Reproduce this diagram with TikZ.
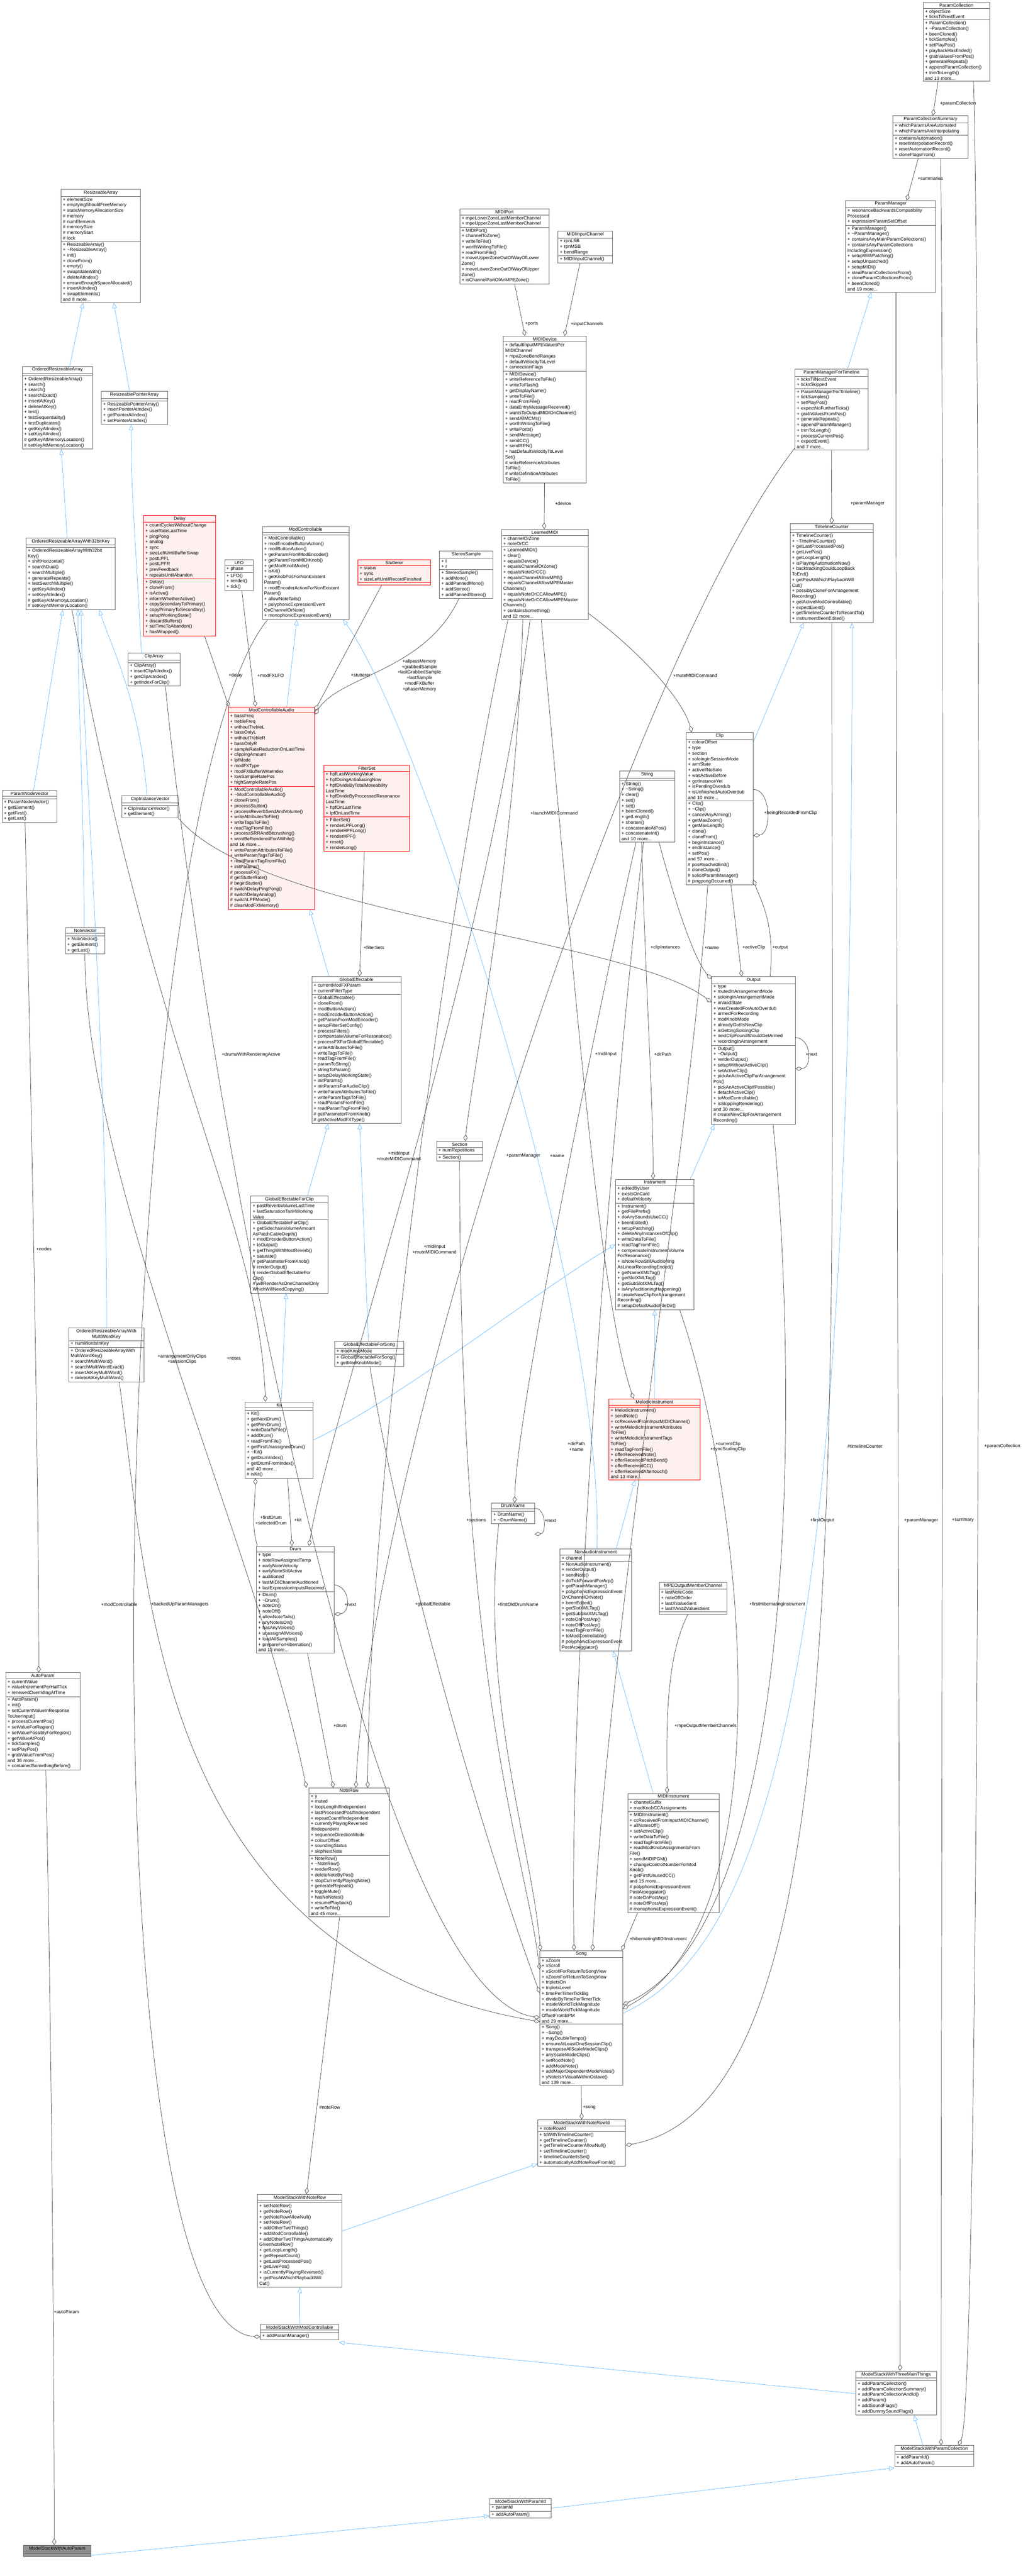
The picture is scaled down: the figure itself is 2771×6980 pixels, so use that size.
\documentclass[tikz,border=0pt]{standalone}
\usepackage{fontspec}
\setmainfont{Liberation Sans}
\usetikzlibrary{shapes.multipart,arrows.meta}
\definecolor{edgeblue}{HTML}{63B8FF}
\definecolor{edgegray}{HTML}{404040}
\definecolor{boxgray}{HTML}{666666}
\definecolor{redfill}{HTML}{FFF0F0}
\tikzset{
  cls/.style={rectangle split, rectangle split parts=3, draw=boxgray, fill=white, line width=1pt,
    align=left, inner xsep=5pt, inner ysep=3pt, anchor=north west,
    rectangle split empty part height=8pt,
    font=\fontsize{12.5}{15}\selectfont},
  redbox/.style={draw=red, fill=redfill},
  graybox/.style={draw=boxgray, fill=boxgray!70},
  plainbox/.style={},
  inh/.style={draw=edgeblue, line width=1pt, -{Triangle[open,length=15pt,width=12pt]}},
  agg/.style={draw=edgegray, line width=1pt, -{Diamond[open,length=18pt,width=11pt]}},
  lbl/.style={font=\fontsize{12.5}{15}\selectfont, align=center, inner sep=1pt}
}
\newcommand\umlbox[8]{\node[cls,#2,text width=#5pt] (#1) at (#3,#4) {{\centering #6\par}\nodepart{two}#7\nodepart{three}#8};}
\begin{document}
\begin{tikzpicture}[x=1pt,y=-1pt]
\useasboundingbox (0,0) rectangle (2771,6980);

\umlbox{ra}{plainbox}{165}{513}{205}{ResizeableArray}{+ elementSize\\+ emptyingShouldFreeMemory\\+ staticMemoryAllocationSize\\\# memory\\\# numElements\\\# memorySize\\\# memoryStart\\\# lock}{+ ResizeableArray()\\+ \textasciitilde ResizeableArray()\\+ init()\\+ cloneFrom()\\+ empty()\\+ swapStateWith()\\+ deleteAtIndex()\\+ ensureEnoughSpaceAllocated()\\+ insertAtIndex()\\+ swapElements()\\and 8 more...}
\umlbox{ora}{plainbox}{60}{992}{180}{OrderedResizeableArray}{}{+ OrderedResizeableArray()\\+ search()\\+ search()\\+ searchExact()\\+ insertAtKey()\\+ deleteAtKey()\\+ test()\\+ testSequentiality()\\+ testDuplicates()\\+ getKeyAtIndex()\\+ setKeyAtIndex()\\\# getKeyAtMemoryLocation()\\\# setKeyAtMemoryLocation()}
\umlbox{rpa}{plainbox}{274}{1060}{169}{ResizeablePointerArray}{}{+ ResizeablePointerArray()\\+ insertPointerAtIndex()\\+ getPointerAtIndex()\\+ setPointerAtIndex()}
\umlbox{ora32}{plainbox}{70}{1457}{232}{OrderedResizeableArrayWith32bitKey}{}{+ OrderedResizeableArrayWith32bit\\Key()\\+ shiftHorizontal()\\+ searchDual()\\+ searchMultiple()\\+ generateRepeats()\\+ testSearchMultiple()\\+ getKeyAtIndex()\\+ setKeyAtIndex()\\\# getKeyAtMemoryLocation()\\\# setKeyAtMemoryLocation()}
\umlbox{delay}{redbox}{388}{1396}{186}{Delay}{+ countCyclesWithoutChange\\+ userRateLastTime\\+ pingPong\\+ analog\\+ sync\\+ sizeLeftUntilBufferSwap\\+ postLPFL\\+ postLPFR\\+ prevFeedback\\+ repeatsUntilAbandon}{+ Delay()\\+ cloneFrom()\\+ isActive()\\+ informWhetherActive()\\+ copySecondaryToPrimary()\\+ copyPrimaryToSecondary()\\+ setupWorkingState()\\+ discardBuffers()\\+ setTimeToAbandon()\\+ hasWrapped()}
\umlbox{lfo}{plainbox}{608}{1516}{68}{LFO}{+ phase}{+ LFO()\\+ render()\\+ tick()}
\umlbox{modc}{plainbox}{710}{1426}{225}{ModControllable}{}{+ ModControllable()\\+ modEncoderButtonAction()\\+ modButtonAction()\\+ getParamFromModEncoder()\\+ getParamFromMIDIKnob()\\+ getModKnobMode()\\+ isKit()\\+ getKnobPosForNonExistent\\Param()\\+ modEncoderActionForNonExistent\\Param()\\+ allowNoteTails()\\+ polyphonicExpressionEvent\\OnChannelOrNote()\\+ monophonicExpressionEvent()}
\umlbox{stut}{redbox}{969}{1516}{187}{Stutterer}{+ status\\+ sync\\+ sizeLeftUntilRecordFinished}{}
\umlbox{stereo}{plainbox}{1190}{1493}{135}{StereoSample}{+ l\\+ r}{+ StereoSample()\\+ addMono()\\+ addPannedMono()\\+ addStereo()\\+ addPannedStereo()}
\umlbox{clipa}{plainbox}{346}{1769}{131}{ClipArray}{}{+ ClipArray()\\+ insertClipAtIndex()\\+ getClipAtIndex()\\+ getIndexForClip()}
\umlbox{mca}{redbox}{618}{1915}{224}{ModControllableAudio}{+ bassFreq\\+ trebleFreq\\+ withoutTrebleL\\+ bassOnlyL\\+ withoutTrebleR\\+ bassOnlyR\\+ sampleRateReductionOnLastTime\\+ clippingAmount\\+ lpfMode\\+ modFXType\\+ modFXBufferWriteIndex\\+ lowSampleRatePos\\+ highSampleRatePos}{+ ModControllableAudio()\\+ \textasciitilde ModControllableAudio()\\+ cloneFrom()\\+ processStutter()\\+ processReverbSendAndVolume()\\+ writeAttributesToFile()\\+ writeTagsToFile()\\+ readTagFromFile()\\+ processSRRAndBitcrushing()\\+ wontBeRenderedForAWhile()\\and 16 more...\\+ writeParamAttributesToFile()\\+ writeParamTagsToFile()\\+ readParamTagFromFile()\\+ initParams()\\\# processFX()\\\# getStutterRate()\\\# beginStutter()\\\# switchDelayPingPong()\\\# switchDelayAnalog()\\\# switchLPFMode()\\\# clearModFXMemory()}
\umlbox{fset}{redbox}{877}{2073}{222}{FilterSet}{+ hpfLastWorkingValue\\+ hpfDoingAntialiasingNow\\+ hpfDivideByTotalMoveability\\LastTime\\+ hpfDivideByProcessedResonance\\LastTime\\+ hpfOnLastTime\\+ lpfOnLastTime}{+ FilterSet()\\+ renderLPFLong()\\+ renderHPFLong()\\+ renderHPF()\\+ reset()\\+ renderLong()}
\umlbox{pnv}{plainbox}{5}{2141}{139}{ParamNodeVector}{}{+ ParamNodeVector()\\+ getElement()\\+ getFirst()\\+ getLast()}
\umlbox{civ}{plainbox}{330}{2156}{142}{ClipInstanceVector}{}{+ ClipInstanceVector()\\+ getElement()}
\umlbox{nv}{plainbox}{177}{2513}{97}{NoteVector}{}{+ NoteVector()\\+ getElement()\\+ getLast()}
\umlbox{ge}{plainbox}{844}{2645}{232}{GlobalEffectable}{+ currentModFXParam\\+ currentFilterType}{+ GlobalEffectable()\\+ cloneFrom()\\+ modButtonAction()\\+ modEncoderButtonAction()\\+ getParamFromModEncoder()\\+ setupFilterSetConfig()\\+ processFilters()\\+ compensateVolumeForResonance()\\+ processFXForGlobalEffectable()\\+ writeAttributesToFile()\\+ writeTagsToFile()\\+ readTagFromFile()\\+ paramToString()\\+ stringToParam()\\+ setupDelayWorkingState()\\+ initParams()\\+ initParamsForAudioClip()\\+ writeParamAttributesToFile()\\+ writeParamTagsToFile()\\+ readParamsFromFile()\\+ readParamTagFromFile()\\\# getParameterFromKnob()\\\# getActiveModFXType()}
\umlbox{gefc}{plainbox}{679}{3240}{199}{GlobalEffectableForClip}{+ postReverbVolumeLastTime\\+ lastSaturationTanHWorking\\Value}{+ GlobalEffectableForClip()\\+ getSidechainVolumeAmount\\AsPatchCableDepth()\\+ modEncoderButtonAction()\\+ toOutput()\\+ getThingWithMostReverb()\\+ saturate()\\\# getParameterFromKnob()\\\# renderOutput()\\\# renderGlobalEffectableFor\\Clip()\\\# willRenderAsOneChannelOnly\\WhichWillNeedCopying()}
\umlbox{sect}{plainbox}{1182}{3092}{115}{Section}{+ numRepetitions}{+ Section()}
\umlbox{mport}{plainbox}{1245}{566}{232}{MIDIPort}{+ mpeLowerZoneLastMemberChannel\\+ mpeUpperZoneLastMemberChannel}{+ MIDIPort()\\+ channelToZone()\\+ writeToFile()\\+ worthWritingToFile()\\+ readFromFile()\\+ moveUpperZoneOutOfWayOfLower\\Zone()\\+ moveLowerZoneOutOfWayOfUpper\\Zone()\\+ isChannelPartOfAnMPEZone()}
\umlbox{minch}{plainbox}{1511}{626}{137}{MIDIInputChannel}{+ rpnLSB\\+ rpnMSB\\+ bendRange}{+ MIDIInputChannel()}
\umlbox{mdev}{plainbox}{1363}{910}{214}{MIDIDevice}{+ defaultInputMPEValuesPer\\MIDIChannel\\+ mpeZoneBendRanges\\+ defaultVelocityToLevel\\+ connectionFlags}{+ MIDIDevice()\\+ writeReferenceToFile()\\+ writeToFlash()\\+ getDisplayName()\\+ writeToFile()\\+ readFromFile()\\+ dataEntryMessageReceived()\\+ wantsToOutputMIDIOnChannel()\\+ sendAllMCMs()\\+ worthWritingToFile()\\+ writePorts()\\+ sendMessage()\\+ sendCC()\\+ sendRPN()\\+ hasDefaultVelocityToLevel\\Set()\\\# writeReferenceAttributes\\ToFile()\\\# writeDefinitionAttributes\\ToFile()}
\umlbox{pcol}{plainbox}{2500}{6}{170}{ParamCollection}{+ objectSize\\+ ticksTilNextEvent}{+ ParamCollection()\\+ \textasciitilde ParamCollection()\\+ beenCloned()\\+ tickSamples()\\+ setPlayPos()\\+ playbackHasEnded()\\+ grabValuesFromPos()\\+ generateRepeats()\\+ appendParamCollection()\\+ trimToLength()\\and 13 more...}
\umlbox{pcs}{plainbox}{2418}{313}{194}{ParamCollectionSummary}{+ whichParamsAreAutomated\\+ whichParamsAreInterpolating}{+ containsAutomation()\\+ resetInterpolationRecord()\\+ resetAutomationRecord()\\+ cloneFlagsFrom()}
\umlbox{pm}{plainbox}{2290}{543}{234}{ParamManager}{+ resonanceBackwardsCompatibility\\Processed\\+ expressionParamSetOffset}{+ ParamManager()\\+ \textasciitilde ParamManager()\\+ containsAnyMainParamCollections()\\+ containsAnyParamCollections\\IncludingExpression()\\+ setupWithPatching()\\+ setupUnpatched()\\+ setupMIDI()\\+ stealParamCollectionsFrom()\\+ cloneParamCollectionsFrom()\\+ beenCloned()\\and 19 more...}
\umlbox{pmft}{plainbox}{2153}{1000}{188}{ParamManagerForTimeline}{+ ticksTilNextEvent\\+ ticksSkipped}{+ ParamManagerForTimeline()\\+ tickSamples()\\+ setPlayPos()\\+ expectNoFurtherTicks()\\+ grabValuesFromPos()\\+ generateRepeats()\\+ appendParamManager()\\+ trimToLength()\\+ processCurrentPos()\\+ expectEvent()\\and 7 more...}
\umlbox{lmidi}{plainbox}{1358}{1434}{225}{LearnedMIDI}{+ channelOrZone\\+ noteOrCC}{+ LearnedMIDI()\\+ clear()\\+ equalsDevice()\\+ equalsChannelOrZone()\\+ equalsNoteOrCC()\\+ equalsChannelAllowMPE()\\+ equalsChannelAllowMPEMaster\\Channels()\\+ equalsNoteOrCCAllowMPE()\\+ equalsNoteOrCCAllowMPEMaster\\Channels()\\+ containsSomething()\\and 12 more...}
\umlbox{tc}{plainbox}{2140}{1419}{215}{TimelineCounter}{}{+ TimelineCounter()\\+ \textasciitilde TimelineCounter()\\+ getLastProcessedPos()\\+ getLivePos()\\+ getLoopLength()\\+ isPlayingAutomationNow()\\+ backtrackingCouldLoopBack\\ToEnd()\\+ getPosAtWhichPlaybackWill\\Cut()\\+ possiblyCloneForArrangement\\Recording()\\+ getActiveModControllable()\\+ expectEvent()\\+ getTimelineCounterToRecordTo()\\+ instrumentBeenEdited()}
\umlbox{clip}{plainbox}{1858}{1984}{172}{Clip}{+ colourOffset\\+ type\\+ section\\+ soloingInSessionMode\\+ armState\\+ activeIfNoSolo\\+ wasActiveBefore\\+ gotInstanceYet\\+ isPendingOverdub\\+ isUnfinishedAutoOverdub\\and 10 more...}{+ Clip()\\+ \textasciitilde Clip()\\+ cancelAnyArming()\\+ getMaxZoom()\\+ getMaxLength()\\+ clone()\\+ cloneFrom()\\+ beginInstance()\\+ endInstance()\\+ setPos()\\and 57 more...\\\# posReachedEnd()\\\# cloneOutput()\\\# solicitParamManager()\\\# pingpongOccurred()}
\umlbox{str}{plainbox}{1678}{2089}{139}{String}{}{+ String()\\+ \textasciitilde String()\\+ clear()\\+ set()\\+ set()\\+ beenCloned()\\+ getLength()\\+ shorten()\\+ concatenateAtPos()\\+ concatenateInt()\\and 10 more...}
\umlbox{out}{plainbox}{1927}{2646}{217}{Output}{+ type\\+ mutedInArrangementMode\\+ soloingInArrangementMode\\+ inValidState\\+ wasCreatedForAutoOverdub\\+ armedForRecording\\+ modKnobMode\\+ alreadyGotItsNewClip\\+ isGettingSoloingClip\\+ nextClipFoundShouldGetArmed\\+ recordingInArrangement}{+ Output()\\+ \textasciitilde Output()\\+ renderOutput()\\+ setupWithoutActiveClip()\\+ setActiveClip()\\+ pickAnActiveClipForArrangement\\Pos()\\+ pickAnActiveClipIfPossible()\\+ detachActiveClip()\\+ toModControllable()\\+ isSkippingRendering()\\and 30 more...\\\# createNewClipForArrangement\\Recording()}
\umlbox{inst}{plainbox}{1667}{3195}{202}{Instrument}{+ editedByUser\\+ existsOnCard\\+ defaultVelocity}{+ Instrument()\\+ getFilePrefix()\\+ doAnySoundsUseCC()\\+ beenEdited()\\+ setupPatching()\\+ deleteAnyInstancesOfClip()\\+ writeDataToFile()\\+ readTagFromFile()\\+ compensateInstrumentVolume\\ForResonance()\\+ isNoteRowStillAuditioning\\AsLinearRecordingEnded()\\+ getNameXMLTag()\\+ getSlotXMLTag()\\+ getSubSlotXMLTag()\\+ isAnyAuditioningHappening()\\\# createNewClipForArrangement\\Recording()\\\# setupDefaultAudioFileDir()}
\umlbox{mel}{redbox}{1649}{3790}{237}{MelodicInstrument}{}{+ MelodicInstrument()\\+ sendNote()\\+ ccReceivedFromInputMIDIChannel()\\+ writeMelodicInstrumentAttributes\\ToFile()\\+ writeMelodicInstrumentTags\\ToFile()\\+ readTagFromFile()\\+ offerReceivedNote()\\+ offerReceivedPitchBend()\\+ offerReceivedCC()\\+ offerReceivedAftertouch()\\and 13 more...}
\umlbox{dname}{plainbox}{1331}{4072}{106}{DrumName}{}{+ DrumName()\\+ \textasciitilde DrumName()}
\umlbox{nai}{plainbox}{1516}{4197}{184}{NonAudioInstrument}{+ channel}{+ NonAudioInstrument()\\+ renderOutput()\\+ sendNote()\\+ doTickForwardForArp()\\+ getParamManager()\\+ polyphonicExpressionEvent\\OnChannelOrNote()\\+ beenEdited()\\+ getSlotXMLTag()\\+ getSubSlotXMLTag()\\+ noteOnPostArp()\\+ noteOffPostArp()\\+ readTagFromFile()\\+ toModControllable()\\\# polyphonicExpressionEvent\\PostArpeggiator()}
\umlbox{mpe}{plainbox}{1785}{4287}{174}{MPEOutputMemberChannel}{+ lastNoteCode\\+ noteOffOrder\\+ lastXValueSent\\+ lastYAndZValuesSent}{}
\umlbox{midii}{plainbox}{1700}{4859}{237}{MIDIInstrument}{+ channelSuffix\\+ modKnobCCAssignments}{+ MIDIInstrument()\\+ ccReceivedFromInputMIDIChannel()\\+ allNotesOff()\\+ setActiveClip()\\+ writeDataToFile()\\+ readTagFromFile()\\+ readModKnobAssignmentsFrom\\File()\\+ sendMIDIPGM()\\+ changeControlNumberForMod\\Knob()\\+ getFirstUnusedCC()\\and 15 more...\\\# polyphonicExpressionEvent\\PostArpeggiator()\\\# noteOnPostArp()\\\# noteOffPostArp()\\\# monophonicExpressionEvent()}
\umlbox{song}{plainbox}{1462}{5285}{214}{Song}{+ xZoom\\+ xScroll\\+ xScrollForReturnToSongView\\+ xZoomForReturnToSongView\\+ tripletsOn\\+ tripletsLevel\\+ timePerTimerTickBig\\+ divideByTimePerTimerTick\\+ insideWorldTickMagnitude\\+ insideWorldTickMagnitude\\OffsetFromBPM\\and 29 more...}{+ Song()\\+ \textasciitilde Song()\\+ mayDoubleTempo()\\+ ensureAtLeastOneSessionClip()\\+ transposeAllScaleModeClips()\\+ anyScaleModeClips()\\+ setRootNote()\\+ addModeNote()\\+ addMajorDependentModeNotes()\\+ yNoteIsYVisualWithinOctave()\\and 139 more...}
\umlbox{oramw}{plainbox}{186}{3598}{193}{OrderedResizeableArrayWith\\MultiWordKey}{+ numWordsInKey}{+ OrderedResizeableArrayWith\\MultiWordKey()\\+ searchMultiWord()\\+ searchMultiWordExact()\\+ insertAtKeyMultiWord()\\+ deleteAtKeyMultiWord()}
\umlbox{gefs}{plainbox}{906}{3634}{177}{GlobalEffectableForSong}{+ modKnobMode}{+ GlobalEffectableForSong()\\+ getModKnobMode()}
\umlbox{kit}{plainbox}{663}{3798}{175}{Kit}{}{+ Kit()\\+ getNextDrum()\\+ getPrevDrum()\\+ writeDataToFile()\\+ addDrum()\\+ readFromFile()\\+ getFirstUnassignedDrum()\\+ \textasciitilde Kit()\\+ getDrumIndex()\\+ getDrumFromIndex()\\and 40 more...\\\# isKit()}
\umlbox{drum}{plainbox}{694}{4189}{201}{Drum}{+ type\\+ noteRowAssignedTemp\\+ earlyNoteVelocity\\+ earlyNoteStillActive\\+ auditioned\\+ lastMIDIChannelAuditioned\\+ lastExpressionInputsReceived}{+ Drum()\\+ \textasciitilde Drum()\\+ noteOn()\\+ noteOff()\\+ allowNoteTails()\\+ anyNoteIsOn()\\+ hasAnyVoices()\\+ unassignAllVoices()\\+ loadAllSamples()\\+ prepareForHibernation()\\and 13 more...}
\umlbox{ap}{plainbox}{15}{4532}{191}{AutoParam}{+ currentValue\\+ valueIncrementPerHalfTick\\+ renewedOverridingAtTime}{+ AutoParam()\\+ init()\\+ setCurrentValueInResponse\\ToUserInput()\\+ processCurrentPos()\\+ setValueForRegion()\\+ setValuePossiblyForRegion()\\+ getValueAtPos()\\+ tickSamples()\\+ setPlayPos()\\+ grabValueFromPos()\\and 36 more...\\+ containedSomethingBefore()}
\umlbox{nr}{plainbox}{836}{4844}{208}{NoteRow}{+ y\\+ muted\\+ loopLengthIfIndependent\\+ lastProcessedPosIfIndependent\\+ repeatCountIfIndependent\\+ currentlyPlayingReversed\\IfIndependent\\+ sequenceDirectionMode\\+ colourOffset\\+ soundingStatus\\+ skipNextNote}{+ NoteRow()\\+ \textasciitilde NoteRow()\\+ renderRow()\\+ deleteNoteByPos()\\+ stopCurrentlyPlayingNote()\\+ generateRepeats()\\+ toggleMute()\\+ hasNoNotes()\\+ resumePlayback()\\+ writeToFile()\\and 45 more...}
\umlbox{msnrid}{plainbox}{1456}{5743}{228}{ModelStackWithNoteRowId}{+ noteRowId}{+ toWithTimelineCounter()\\+ getTimelineCounter()\\+ getTimelineCounterAllowNull()\\+ setTimelineCounter()\\+ timelineCounterIsSet()\\+ automaticallyAddNoteRowFromId()}
\umlbox{msnr}{plainbox}{697}{5945}{219}{ModelStackWithNoteRow}{}{+ setNoteRow()\\+ getNoteRow()\\+ getNoteRowAllowNull()\\+ setNoteRow()\\+ addOtherTwoThings()\\+ addModControllable()\\+ addOtherTwoThingsAutomatically\\GivenNoteRow()\\+ getLoopLength()\\+ getRepeatCount()\\+ getLastProcessedPos()\\+ getLivePos()\\+ isCurrentlyPlayingReversed()\\+ getPosAtWhichPlaybackWill\\Cut()}
\umlbox{msmc}{plainbox}{705}{6297}{202}{ModelStackWithModControllable}{}{+ addParamManager()}
\umlbox{ms3}{plainbox}{2318}{6424}{208}{ModelStackWithThreeMainThings}{}{+ addParamCollection()\\+ addParamCollectionSummary()\\+ addParamCollectionAndId()\\+ addParam()\\+ addSoundFlags()\\+ addDummySoundFlags()}
\umlbox{mspc}{plainbox}{2423}{6626}{204}{ModelStackWithParamCollection}{}{+ addParamId()\\+ addAutoParam()}
\umlbox{mspid}{plainbox}{1326}{6769}{157}{ModelStackWithParamId}{+ paramId}{+ addAutoParam()}
\umlbox{msap}{graybox}{63}{6896}{173}{ModelStackWithAutoParam}{}{}

% inheritance
\draw[inh] ([xshift=129pt]ora.north west) -- ([xshift=60pt]ra.south west);
\draw[inh] ([xshift=77pt]rpa.north west) -- ([xshift=143pt]ra.south west);
\draw[inh] ([xshift=112pt]ora32.north west) -- ([xshift=106pt]ora.south west);
\draw[inh] ([xshift=37pt]clipa.north west) .. controls (370,1500) and (355,1350) .. ([xshift=81pt]rpa.south west);
\draw[inh] ([xshift=86pt]pnv.north west) -- ([xshift=100pt]ora32.south west);
\draw[inh] ([xshift=51pt]nv.north west) .. controls (228,2200) and (211,1900) .. ([xshift=141pt]ora32.south west);
\draw[inh] ([xshift=68pt]civ.north west) .. controls (380,1900) and (300,1750) .. ([xshift=199pt]ora32.south west);
\draw[inh] ([xshift=103pt]oramw.north west) .. controls (289,2800) and (222,2000) .. ([xshift=150pt]ora32.south west);
\draw[inh] ([xshift=159pt]mca.north west) -- ([xshift=94pt]modc.south west);
\draw[inh] ([xshift=47pt]ge.north west) -- ([xshift=221pt]mca.south west);
\draw[inh] ([xshift=154pt]gefc.north west) -- ([xshift=45pt]ge.south west);
\draw[inh] ([xshift=92pt]gefs.north west) -- ([xshift=130pt]ge.south west);
\draw[inh] ([xshift=99pt]kit.north west) -- ([xshift=96pt]gefc.south west);
\draw[inh] (kit.east) .. controls (1100,3780) and (1450,3500) .. (inst.west);
\draw[inh] ([xshift=143pt]pmft.north west) -- ([xshift=70pt]pm.south west);
\draw[inh] ([yshift=-26pt]clip.north east) -- ([xshift=37pt]tc.south west);
\draw[inh] ([xshift=203pt]inst.north west) -- ([xshift=8pt]out.south west);
\draw[inh] (mel.north) -- (inst.south);
\draw[inh] ([xshift=153pt]nai.north west) -- ([xshift=71pt]mel.south west);
\draw[inh] ([xshift=69pt]midii.north west) -- ([xshift=145pt]nai.south west);
\draw[inh] ([xshift=101pt]nai.north west) .. controls (1640,3500) and (1130,1950) .. ([xshift=-17pt]modc.south east);
\draw[inh] ([yshift=-170pt]song.north east) .. controls (2150,5250) and (2310,4200) .. ([xshift=168pt]tc.south west);
\draw[inh] ([yshift=-100pt]msnr.north east) -- ([yshift=-120pt]msnrid.north west);
\draw[inh] (msmc.north) -- (msnr.south);
\draw[inh] ([yshift=-62pt]ms3.north west) -- ([yshift=-50pt]msmc.north east);
\draw[inh] ([xshift=77pt]mspc.north west) -- ([xshift=158pt]ms3.south west);
\draw[inh] (mspid.east) -- ([yshift=-61pt]mspc.north west);
\draw[inh] ([yshift=-28pt]msap.north east) -- ([yshift=-48pt]mspid.north west);

% aggregation
\draw[agg] ([xshift=149pt]mport.south west) -- ([xshift=59pt]mdev.north west);
\draw[agg] ([xshift=60pt]minch.south west) -- ([xshift=166pt]mdev.north west);
\draw[agg] ([xshift=112pt]mdev.south west) -- ([xshift=116pt]lmidi.north west);
\draw[agg] ([xshift=41pt]pcol.south west) -- ([xshift=109pt]pcs.north west);
\draw[agg] ([xshift=69pt]pcs.south west) -- ([xshift=166pt]pm.north west);
\draw[agg] ([xshift=99pt]pmft.south west) -- ([xshift=113pt]tc.north west);
\draw[agg] ([xshift=166pt]delay.south west) -- ([xshift=2pt]mca.north west);
\draw[agg] ([xshift=47pt]lfo.south west) -- ([xshift=74pt]mca.north west);
\draw[agg] ([xshift=65pt]stut.south west) -- ([yshift=-10pt]mca.north east);
\draw[agg] ([xshift=53pt]stereo.south west) .. controls (1150,1820) and (920,1830) .. ([yshift=-21pt]mca.north east);
\draw[agg] ([xshift=110pt]fset.south west) -- ([xshift=130pt]ge.north west);
\draw[agg] ([yshift=-228pt]lmidi.north east) .. controls (1750,1780) and (1850,1900) .. ([xshift=16pt]clip.north west);
\draw[agg] ([yshift=-155pt]clip.north east) .. controls (2090,2140) and (2090,2260) .. ([yshift=-280pt]clip.north east);
\draw[agg] ([xshift=122pt]clip.south west) -- ([xshift=82pt]out.north west);
\draw[agg] ([xshift=159pt]out.north west) .. controls (2100,2500) and (2060,2440) .. ([yshift=-400pt]clip.north east);
\draw[agg] ([xshift=107pt]str.south west) .. controls (1830,2450) and (1880,2600) .. ([yshift=-7pt]out.north west);
\draw[agg] (civ.south east) .. controls (700,2480) and (1700,2540) .. ([yshift=-70pt]out.north west);
\draw[agg] ([yshift=-165pt]out.north east) .. controls (2200,2815) and (2200,2895) .. ([yshift=-250pt]out.north east);
\draw[agg] ([xshift=60pt]str.south west) .. controls (1750,2700) and (1770,3000) .. ([xshift=102pt]inst.north west);
\draw[agg] ([xshift=-10pt]lmidi.south) .. controls (1560,2700) and (1620,3500) .. ([xshift=67pt]mel.north west);
\draw[agg] ([xshift=-60pt]lmidi.south) .. controls (1400,2300) and (1280,2900) .. ([xshift=78pt]sect.north west);
\draw[agg] ([xshift=-40pt]lmidi.south) .. controls (1300,2700) and (900,3800) .. ([xshift=143pt]drum.north west);
\draw[agg] ([xshift=-100pt]lmidi.south) .. controls (1200,2500) and (1000,4000) .. ([xshift=160pt]nr.north west);
\draw[agg] ([xshift=-30pt]str.south) .. controls (1650,2600) and (1400,3800) .. ([xshift=63pt]dname.north west);
\draw[agg] ([yshift=-15pt]dname.north east) .. controls (1480,4085) and (1480,4155) .. ([yshift=-85pt]dname.north east);
\draw[agg] ([xshift=20pt]dname.south west) .. controls (1300,4600) and (1440,5000) .. ([xshift=2pt]song.north west);
\draw[agg] ([xshift=-10pt]str.south) .. controls (1660,3000) and (1540,4500) .. ([xshift=93pt]song.north west);
\draw[agg] ([xshift=59pt]clip.south west) .. controls (1880,3000) and (1640,4500) .. ([xshift=143pt]song.north west);
\draw[agg] ([xshift=27pt]midii.south west) -- ([xshift=222pt]song.north west);
\draw[agg] ([xshift=167pt]out.south west) .. controls (2150,3600) and (2200,5200) .. ([yshift=-147pt]song.north east);
\draw[agg] ([xshift=174pt]inst.south west) .. controls (2000,4000) and (2150,5200) .. ([yshift=-158pt]song.north east);
\draw[agg] ([xshift=78pt]mpe.south west) .. controls (1800,4500) and (1806,4700) .. ([xshift=107pt]midii.north west);
\draw[agg] (sect.south) .. controls (1245,4600) and (1420,5000) .. ([yshift=-52pt]song.north west);
\draw[agg] ([xshift=-40pt]clipa.south east) .. controls (560,3000) and (1000,5400) .. ([yshift=-182pt]song.north west);
\draw[agg] ([xshift=137pt]oramw.south west) .. controls (400,4300) and (420,5300) .. ([yshift=-193pt]song.north west);
\draw[agg] ([xshift=96pt]gefs.south west) .. controls (1100,4300) and (1350,5100) .. ([yshift=-115pt]song.north west);
\draw[agg] ([xshift=53pt]nv.south west) .. controls (230,3200) and (700,4200) .. ([xshift=-6pt]nr.north west);
\draw[agg] ([xshift=3pt]drum.north west) .. controls (680,4130) and (690,4090) .. ([xshift=29pt]kit.south west);
\draw[agg] ([xshift=116pt]kit.south west) -- ([xshift=97pt]drum.north west);
\draw[agg] ([yshift=-105pt]drum.north east) .. controls (950,4300) and (950,4370) .. ([yshift=-185pt]drum.north east);
\draw[agg] ([xshift=139pt]drum.south west) -- ([xshift=67pt]nr.north west);
\draw[agg] ([yshift=-214pt]pmft.north west) .. controls (1700,1800) and (1000,4000) .. ([xshift=128pt]nr.north west);
\draw[agg] ([xshift=125pt]ora32.south west) .. controls (420,2900) and (700,3300) .. ([xshift=56pt]kit.north west);
\draw[agg] ([xshift=63pt]pnv.south west) .. controls (85,3000) and (105,4000) .. ([xshift=90pt]ap.north west);
\draw[agg] ([xshift=109pt]ap.south west) .. controls (140,5500) and (147,6500) .. ([xshift=84pt]msap.north west);
\draw[agg] ([xshift=15pt]modc.south west) .. controls (300,2200) and (200,6300) .. ([yshift=-35pt]msmc.north west);
\draw[agg] ([xshift=84pt]nr.south west) -- ([xshift=133pt]msnr.north west);
\draw[agg] (song.south) -- (msnrid.north);
\draw[agg] (tc.south) .. controls (2253,4000) and (2318,5700) .. ([yshift=-70pt]msnrid.north east);
\draw[agg] ([xshift=137pt]pm.south west) .. controls (2427,3000) and (2440,5500) .. ([xshift=120pt]ms3.north west);
\draw[agg] ([xshift=130pt]pcs.south west) .. controls (2560,1500) and (2549,5500) .. ([xshift=126pt]mspc.north west);
\draw[agg] ([xshift=137pt]pcol.south west) .. controls (2660,1000) and (2660,6500) .. ([xshift=173pt]mspc.north west);

% labels
\node[lbl] (l1) at (1440,878) {+ports};
\node[lbl] (l2) at (1590,878) {+inputChannels};
\node[lbl] (l3) at (1525,1364) {+device};
\node[lbl] (l4) at (2595,281) {+paramCollection};
\node[lbl] (l5) at (2520,483) {+summaries};
\node[lbl] (l6) at (2350,1364) {+paramManager};
\node[lbl] (l7) at (638,1830) {+delay};
\node[lbl] (l8) at (733,1830) {+modFXLFO};
\node[lbl] (l9) at (977,1830) {+stutterer};
\node[lbl] (l10) at (1136,1830) {+allpassMemory\\+grabbedSample\\+lastGrabbedSample\\+lastSample\\+modFXBuffer\\+phaserMemory};
\node[lbl] (l11) at (1013,2567) {+filterSets};
\node[lbl] (l12) at (1883,1830) {+muteMIDICommand};
\node[lbl] (l13) at (1501,2203) {+launchMIDICommand};
\node[lbl] (l14) at (2141,2203) {+beingRecordedFromClip};
\node[lbl] (l15) at (1802,2568) {+clipInstances};
\node[lbl] (l16) at (1928,2568) {+name};
\node[lbl] (l17) at (2042,2568) {+activeClip};
\node[lbl] (l18) at (2113,2568) {+output};
\node[lbl] (l19) at (2198,2857) {+next};
\node[lbl] (l20) at (1641,2857) {+midiInput};
\node[lbl] (l21) at (1795,2857) {+dirPath};
\node[lbl] (l22) at (680,2858) {+drumsWithRenderingActive};
\node[lbl] (l23) at (1080,3132) {+midiInput\\+muteMIDICommand};
\node[lbl] (l24) at (1177,3385) {+midiInput\\+muteMIDICommand};
\node[lbl] (l25) at (119,3384) {+nodes};
\node[lbl] (l26) at (1417,3132) {+paramManager};
\node[lbl] (l27) at (1509,3132) {+name};
\node[lbl] (l28) at (1561,3920) {+dirPath\\+name};
\node[lbl] (l29) at (1972,3920) {+currentClip\\+syncScalingClip};
\node[lbl] (l30) at (2343,3919) {\#timelineCounter};
\node[lbl] (l31) at (2715,3919) {+paramCollection};
\node[lbl] (l32) at (493,3683) {+arrangementOnlyClips\\+sessionClips};
\node[lbl] (l33) at (633,3681) {+notes};
\node[lbl] (l34) at (734,4119) {+firstDrum\\+selectedDrum};
\node[lbl] (l35) at (807,4119) {+kit};
\node[lbl] (l36) at (1290,4119) {+sections};
\node[lbl] (l37) at (1491,4120) {+next};
\node[lbl] (l38) at (2227,4120) {+firstOutput};
\node[lbl] (l39) at (2495,4120) {+paramManager};
\node[lbl] (l40) at (2608,4120) {+summary};
\node[lbl] (l41) at (323,4348) {+modControllable};
\node[lbl] (l42) at (487,4348) {+backedUpParamManagers};
\node[lbl] (l43) at (949,4348) {+next};
\node[lbl] (l44) at (1172,4348) {+globalEffectable};
\node[lbl] (l45) at (1403,4348) {+firstOldDrumName};
\node[lbl] (l46) at (2105,4348) {+firstHibernatingInstrument};
\node[lbl] (l47) at (921,4676) {+drum};
\node[lbl] (l48) at (1911,4677) {+mpeOutputMemberChannels};
\node[lbl] (l49) at (1783,5255) {+hibernatingMIDIInstrument};
\node[lbl] (l50) at (893,5710) {\#noteRow};
\node[lbl] (l51) at (1596,5711) {+song};
\node[lbl] (l52) at (180,6264) {+autoParam};
\end{tikzpicture}
\end{document}
